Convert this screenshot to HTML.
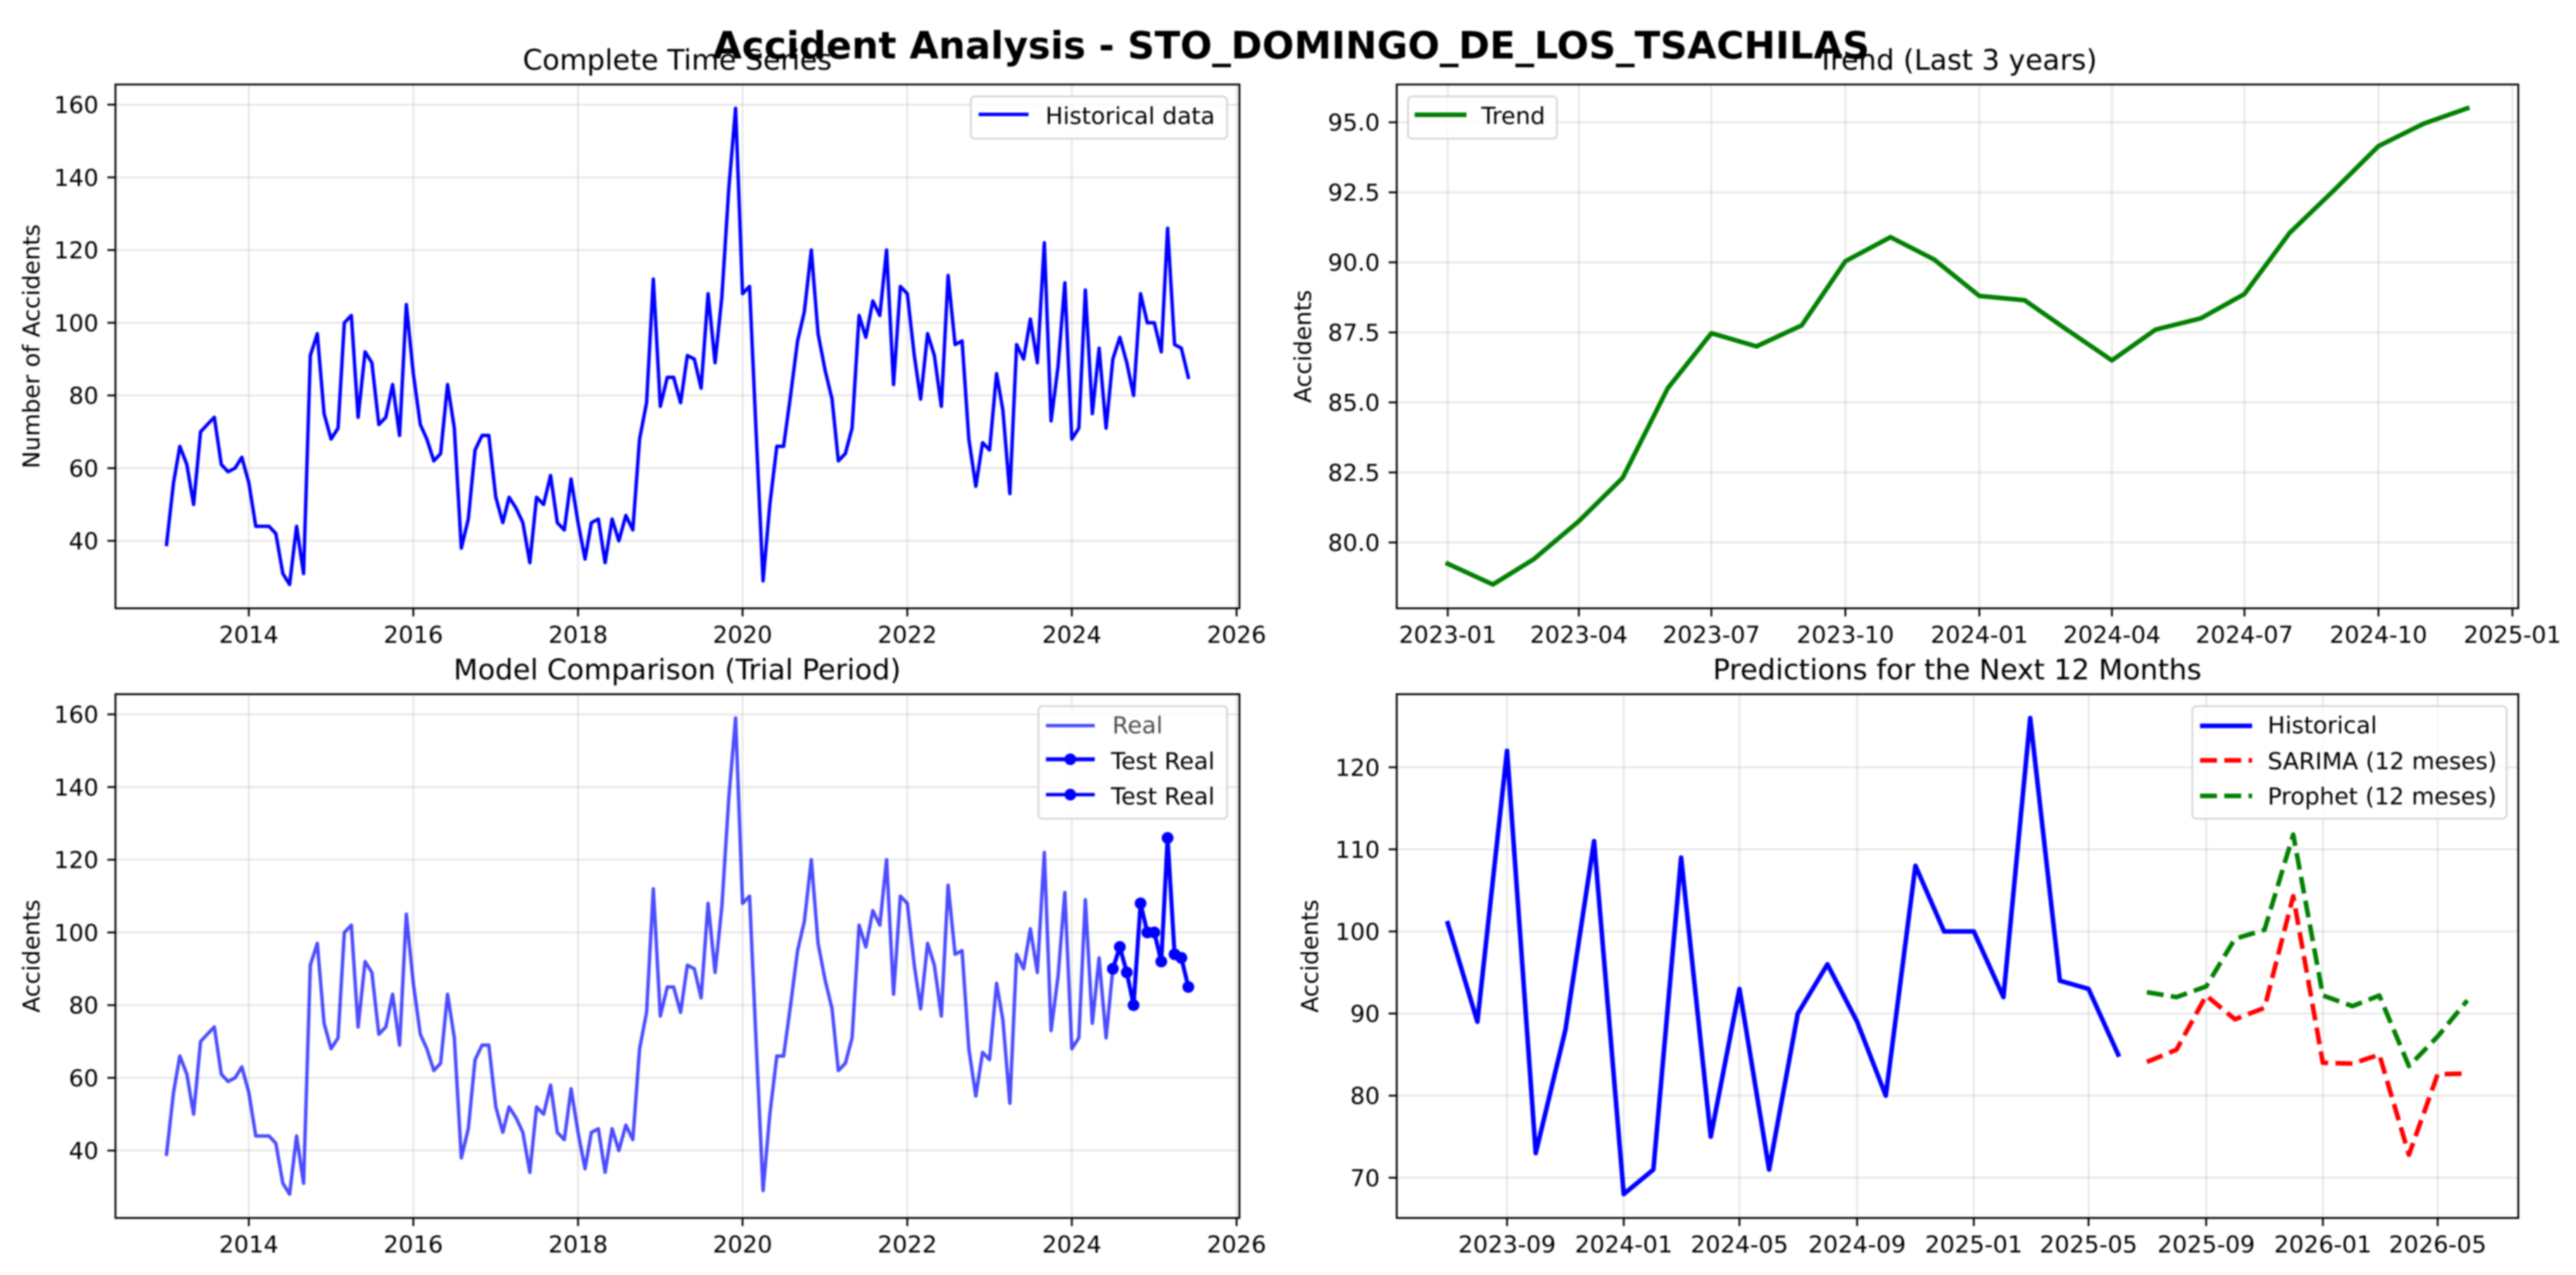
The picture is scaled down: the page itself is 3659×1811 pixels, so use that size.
<!DOCTYPE html>
<html lang="en">
<head>
<meta charset="utf-8">
<title>Accident Analysis - STO_DOMINGO_DE_LOS_TSACHILAS</title>
<style>
  html, body { margin: 0; padding: 0; background: #fff; }
  #figure { display: block; width: 3659px; height: 1811px; background: #fff; filter: blur(1.1px); }
  text { font-family: "DejaVu Sans", "Liberation Sans", sans-serif; fill: #000; }
  .tick-label, .legend-text, .axis-label { font-size: 33.2px; }
  .panel-title { font-size: 40px; text-anchor: middle; }
  .fig-title { font-size: 53.4px; font-weight: bold; text-anchor: middle; }
  .spine { fill: none; stroke: #000; stroke-width: 2.6; }
  .legend-box { fill: #fff; fill-opacity: 0.8; stroke: #ccc; stroke-opacity: 0.8; stroke-width: 2.6; }
</style>
</head>
<body>
<svg id="figure" xmlns="http://www.w3.org/2000/svg" width="3659" height="1811" viewBox="0 0 3659 1811">
  <g id="panel-history">
    <g id="history-under"></g>
    <g id="history-marks"></g>
    <rect class="spine" x="164" y="120" width="1596.5" height="744"/>
    <text class="panel-title" x="962" y="99">Complete Time Series</text>
    <text class="axis-label" text-anchor="middle" transform="translate(56 492) rotate(-90)">Number of Accidents</text>
    <g>
      <rect class="legend-box" x="1379" y="137" width="364" height="60" rx="6"/>
      <line x1="1390" x2="1461" y1="162.5" y2="162.5" stroke="#0000ff" stroke-width="4.9"/>
      <text class="legend-text" x="1485" y="176">Historical data</text>
    </g>
  </g>

  <g id="panel-trend">
    <g id="trend-under"></g>
    <g id="trend-marks"></g>
    <rect class="spine" x="1984" y="120" width="1593" height="744"/>
    <text class="panel-title" x="2780" y="99">Trend (Last 3 years)</text>
    <text class="axis-label" text-anchor="middle" transform="translate(1862 492) rotate(-90)">Accidents</text>
    <g>
      <rect class="legend-box" x="2000" y="137" width="211.5" height="60" rx="6"/>
      <line x1="2009.5" x2="2083" y1="163" y2="163" stroke="#008000" stroke-width="6.5"/>
      <text class="legend-text" x="2104" y="176">Trend</text>
    </g>
  </g>

  <g id="panel-compare">
    <g id="compare-under"></g>
    <g id="compare-marks"></g>
    <rect class="spine" x="164" y="986" width="1596.5" height="744"/>
    <text class="panel-title" x="962" y="965">Model Comparison (Trial Period)</text>
    <text class="axis-label" text-anchor="middle" transform="translate(56 1358) rotate(-90)">Accidents</text>
    <g>
      <rect class="legend-box" x="1475" y="1003" width="268" height="160" rx="6"/>
      <line x1="1485.7" x2="1555" y1="1030.7" y2="1030.7" stroke="#0000ff" stroke-opacity="0.7" stroke-width="4.9"/>
      <text class="legend-text" x="1580" y="1041.7" fill-opacity="0.7" style="fill-opacity:0.7">Real</text>
      <line x1="1485.7" x2="1555" y1="1078.5" y2="1078.5" stroke="#0000ff" stroke-width="5.8"/>
      <circle cx="1520.3" cy="1078.5" r="8.3" fill="#0000ff"/>
      <text class="legend-text" x="1578" y="1092.3">Test Real</text>
      <line x1="1485.7" x2="1555" y1="1128.7" y2="1128.7" stroke="#0000ff" stroke-width="4.9"/>
      <circle cx="1520.3" cy="1128.7" r="8.3" fill="#0000ff"/>
      <text class="legend-text" x="1578" y="1142.7">Test Real</text>
    </g>
  </g>

  <g id="panel-forecast">
    <g id="forecast-under"></g>
    <g id="forecast-marks"></g>
    <rect class="spine" x="1984" y="986" width="1593" height="744"/>
    <text class="panel-title" x="2780" y="965">Predictions for the Next 12 Months</text>
    <text class="axis-label" text-anchor="middle" transform="translate(1872 1358) rotate(-90)">Accidents</text>
    <g>
      <rect class="legend-box" x="3114" y="1003" width="446.5" height="160" rx="6"/>
      <line x1="3125" x2="3199" y1="1031" y2="1031" stroke="#0000ff" stroke-width="6.5"/>
      <text class="legend-text" x="3221" y="1041.7">Historical</text>
      <line x1="3125" x2="3199" y1="1080" y2="1080" stroke="#ff0000" stroke-width="6.5" stroke-dasharray="24 10.4"/>
      <text class="legend-text" x="3221" y="1092.3">SARIMA (12 meses)</text>
      <line x1="3125" x2="3199" y1="1130.5" y2="1130.5" stroke="#008000" stroke-width="6.5" stroke-dasharray="24 10.4"/>
      <text class="legend-text" x="3221" y="1142.7">Prophet (12 meses)</text>
    </g>
  </g>

  <text class="fig-title" x="1834" y="83">Accident Analysis - STO_DOMINGO_DE_LOS_TSACHILAS</text>
</svg>

<script>
// ---- categories ----
const historyMonths = monthRange('2013-01', '2025-06');
const testMonths = monthRange('2024-07', '2025-06');
const trendMonths = monthRange('2023-01', '2024-12');
const recentMonths = monthRange('2023-07', '2025-06');
const forecastMonths = monthRange('2025-07', '2026-06');

// ---- series values ----
const historyValues = [
  39, 56, 66, 61, 50, 70, 72, 74, 61, 59, 60, 63,
  56, 44, 44, 44, 42, 31, 28, 44, 31, 91, 97, 75,
  68, 71, 100, 102, 74, 92, 89, 72, 74, 83, 69, 105,
  86, 72, 68, 62, 64, 83, 71, 38, 46, 65, 69, 69,
  52, 45, 52, 49, 45, 34, 52, 50, 58, 45, 43, 57,
  45, 35, 45, 46, 34, 46, 40, 47, 43, 68, 78, 112,
  77, 85, 85, 78, 91, 90, 82, 108, 89, 107, 137, 159,
  108, 110, 70, 29, 50, 66, 66, 80, 95, 103, 120, 97,
  87, 79, 62, 64, 71, 102, 96, 106, 102, 120, 83, 110,
  108, 91, 79, 97, 91, 77, 113, 94, 95, 68, 55, 67,
  65, 86, 76, 53, 94, 90, 101, 89, 122, 73, 88, 111,
  68, 71, 109, 75, 93, 71, 90, 96, 89, 80, 108, 100,
  100, 92, 126, 94, 93, 85
];
const testValues = [90, 96, 89, 80, 108, 100, 100, 92, 126, 94, 93, 85];
const trendValues = [
  79.24, 78.5, 79.4, 80.76, 82.3, 85.5, 87.47, 87.0, 87.75, 90.04, 90.9, 90.1,
  88.8, 88.65, 87.6, 86.5, 87.6, 88.0, 88.87, 91.05, 92.6, 94.15, 94.95, 95.5
];
const recentValues = [
  101, 89, 122, 73, 88, 111, 68, 71, 109, 75, 93, 71,
  90, 96, 89, 80, 108, 100, 100, 92, 126, 94, 93, 85
];
const sarimaValues = [84.1, 85.6, 92.2, 89.3, 90.7, 104.3, 84.0, 83.9, 85.0, 72.8, 82.6, 82.7];
const prophetValues = [92.6, 92.0, 93.3, 99.1, 100.2, 111.8, 92.2, 90.9, 92.2, 83.6, 87.2, 91.6];

// ---- tick labels ----
const yearTicks = ['2014', '2016', '2018', '2020', '2022', '2024', '2026'];
const countTicks = ['40', '60', '80', '100', '120', '140', '160'];
const trendXTicks = ['2023-01', '2023-04', '2023-07', '2023-10', '2024-01', '2024-04', '2024-07', '2024-10', '2025-01'];
const trendYTicks = ['80.0', '82.5', '85.0', '87.5', '90.0', '92.5', '95.0'];
const forecastXTicks = ['2023-09', '2024-01', '2024-05', '2024-09', '2025-01', '2025-05', '2025-09', '2026-01', '2026-05'];
const forecastYTicks = ['70', '80', '90', '100', '110', '120'];

// ---- value domains ----
const countDomain = [21.45, 165.55];
const trendDomain = [77.65, 96.35];
const forecastDomain = [65.1, 128.9];

function monthRange(first, last) {
  const out = [];
  let y = +first.slice(0, 4), m = +first.slice(5, 7);
  const endY = +last.slice(0, 4), endM = +last.slice(5, 7);
  while (y < endY || (y === endY && m <= endM)) {
    out.push(y + '-' + String(m).padStart(2, '0'));
    m++;
    if (m > 12) { m = 1; y++; }
  }
  return out;
}

function toDay(label) {
  const parts = label.split('-');
  return Date.UTC(+parts[0], parts[1] ? +parts[1] - 1 : 0, 1) / 86400000;
}

function timeAxis(firstMonth, lastMonth, left, right) {
  const a = toDay(firstMonth), b = toDay(lastMonth);
  const pad = (b - a) * 0.05;
  return function (label) {
    return left + (toDay(label) - (a - pad)) / ((b + pad) - (a - pad)) * (right - left);
  };
}

function valueAxis(domain, top, bottom) {
  return function (v) {
    return bottom - (v - domain[0]) / (domain[1] - domain[0]) * (bottom - top);
  };
}

const SVGNS = 'http://www.w3.org/2000/svg';

function drawFrameTicks(layerId, xTicks, yTicks, x, y, box) {
  const layer = document.getElementById(layerId);
  xTicks.forEach(function (label) {
    const px = x(label);
    const grid = document.createElementNS(SVGNS, 'line');
    
    
    grid.setAttribute('x1', px); grid.setAttribute('x2', px);
    grid.setAttribute('y1', box.top); grid.setAttribute('y2', box.bottom);
    grid.setAttribute('stroke', '#b0b0b0'); grid.setAttribute('stroke-opacity', '0.3'); grid.setAttribute('stroke-width', '2.6');
    layer.appendChild(grid);
    const tick = document.createElementNS(SVGNS, 'line');
    
    
    tick.setAttribute('x1', px); tick.setAttribute('x2', px);
    tick.setAttribute('y1', box.bottom); tick.setAttribute('y2', box.bottom + 11.5);
    tick.setAttribute('stroke', '#000'); tick.setAttribute('stroke-width', '2.6');
    layer.appendChild(tick);
    const text = document.createElementNS(SVGNS, 'text');
    
    
    text.setAttribute('class', 'tick-label');
    text.setAttribute('text-anchor', 'middle');
    text.setAttribute('x', px); text.setAttribute('y', box.bottom + 49);
    text.textContent = label;
    layer.appendChild(text);
  });
  yTicks.forEach(function (label) {
    const py = y(+label);
    const grid = document.createElementNS(SVGNS, 'line');
    
    
    grid.setAttribute('x1', box.left); grid.setAttribute('x2', box.right);
    grid.setAttribute('y1', py); grid.setAttribute('y2', py);
    grid.setAttribute('stroke', '#b0b0b0'); grid.setAttribute('stroke-opacity', '0.3'); grid.setAttribute('stroke-width', '2.6');
    layer.appendChild(grid);
    const tick = document.createElementNS(SVGNS, 'line');
    
    
    tick.setAttribute('x1', box.left - 11.5); tick.setAttribute('x2', box.left);
    tick.setAttribute('y1', py); tick.setAttribute('y2', py);
    tick.setAttribute('stroke', '#000'); tick.setAttribute('stroke-width', '2.6');
    layer.appendChild(tick);
    const text = document.createElementNS(SVGNS, 'text');
    
    
    text.setAttribute('class', 'tick-label');
    text.setAttribute('text-anchor', 'end');
    text.setAttribute('x', box.left - 24); text.setAttribute('y', py + 12);
    text.textContent = label;
    layer.appendChild(text);
  });
}

function drawLine(layerId, name, months, values, x, y, style) {
  const d = values.map(function (v, i) {
    return (i ? 'L' : 'M') + x(months[i]).toFixed(2) + ' ' + y(v).toFixed(2);
  }).join(' ');
  const path = document.createElementNS(SVGNS, 'path');
  
  
  path.setAttribute('d', d);
  path.setAttribute('fill', 'none');
  path.setAttribute('stroke', style.color);
  path.setAttribute('stroke-width', style.width);
  path.setAttribute('stroke-linejoin', 'round');
  path.setAttribute('stroke-linecap', style.dash ? 'butt' : 'square');
  if (style.opacity) path.setAttribute('stroke-opacity', style.opacity);
  if (style.dash) path.setAttribute('stroke-dasharray', style.dash);
  document.getElementById(layerId).appendChild(path);
}

function drawPoints(layerId, name, months, values, x, y, color, r) {
  const layer = document.getElementById(layerId);
  values.forEach(function (v, i) {
    const dot = document.createElementNS(SVGNS, 'circle');
    
    
    dot.setAttribute('cx', x(months[i]));
    dot.setAttribute('cy', y(v));
    dot.setAttribute('r', r);
    dot.setAttribute('fill', color);
    layer.appendChild(dot);
  });
}

// Panel 1: complete time series
const box1 = { left: 164, right: 1760.5, top: 120, bottom: 864 };
const x1 = timeAxis('2013-01', '2025-06', box1.left, box1.right);
const y1 = valueAxis(countDomain, box1.top, box1.bottom);
drawFrameTicks('history-under', yearTicks, countTicks, x1, y1, box1);
drawLine('history-marks', 'historical-data-line', historyMonths, historyValues, x1, y1, { color: '#0000ff', width: 4.9 });

// Panel 2: trend
const box2 = { left: 1984, right: 3577, top: 120, bottom: 864 };
const x2 = timeAxis('2023-01', '2024-12', box2.left, box2.right);
const y2 = valueAxis(trendDomain, box2.top, box2.bottom);
drawFrameTicks('trend-under', trendXTicks, trendYTicks, x2, y2, box2);
drawLine('trend-marks', 'trend-line', trendMonths, trendValues, x2, y2, { color: '#008000', width: 6.5 });

// Panel 3: model comparison
const box3 = { left: 164, right: 1760.5, top: 986, bottom: 1730 };
const x3 = timeAxis('2013-01', '2025-06', box3.left, box3.right);
const y3 = valueAxis(countDomain, box3.top, box3.bottom);
drawFrameTicks('compare-under', yearTicks, countTicks, x3, y3, box3);
drawLine('compare-marks', 'real-line', historyMonths, historyValues, x3, y3, { color: '#0000ff', width: 4.9, opacity: 0.7 });
drawLine('compare-marks', 'test-real-line', testMonths, testValues, x3, y3, { color: '#0000ff', width: 5.8 });
drawPoints('compare-marks', 'test-real-point', testMonths, testValues, x3, y3, '#0000ff', 8.3);
drawLine('compare-marks', 'test-real-line-2', testMonths, testValues, x3, y3, { color: '#0000ff', width: 4.9 });
drawPoints('compare-marks', 'test-real-point-2', testMonths, testValues, x3, y3, '#0000ff', 8.3);

// Panel 4: forecasts
const box4 = { left: 1984, right: 3577, top: 986, bottom: 1730 };
const x4 = timeAxis('2023-07', '2026-06', box4.left, box4.right);
const y4 = valueAxis(forecastDomain, box4.top, box4.bottom);
drawFrameTicks('forecast-under', forecastXTicks, forecastYTicks, x4, y4, box4);
drawLine('forecast-marks', 'historical-line', recentMonths, recentValues, x4, y4, { color: '#0000ff', width: 6.5 });
drawLine('forecast-marks', 'sarima-forecast-line', forecastMonths, sarimaValues, x4, y4, { color: '#ff0000', width: 6.5, dash: '24 10.4' });
drawLine('forecast-marks', 'prophet-forecast-line', forecastMonths, prophetValues, x4, y4, { color: '#008000', width: 6.5, dash: '24 10.4' });
</script>
</body>
</html>
